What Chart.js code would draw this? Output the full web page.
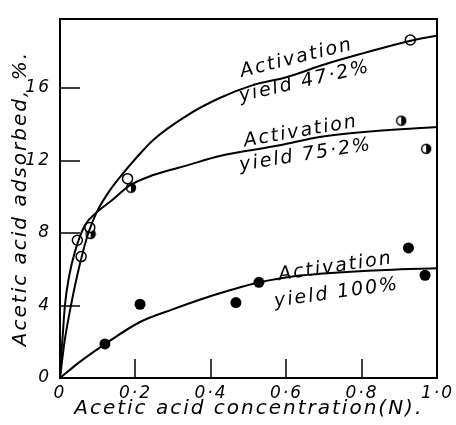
<!DOCTYPE html>
<html>
<head>
<meta charset="utf-8">
<script src="https://cdn.jsdelivr.net/npm/chart.js@4.4.1/dist/chart.umd.min.js"></script>
<style>
  html, body { margin: 0; padding: 0; background: #fff; }
  #wrap { width: 456px; height: 425px; position: relative; }
</style>
</head>
<body>
<div id="wrap"><canvas id="chart-canvas"></canvas></div>
<script>
// axis ticks
const xTicks = [0, 0.2, 0.4, 0.6, 0.8, 1.0];
const yTicks = [0, 4, 8, 12, 16];

// fitted curves
const curve47X = [0, 0.012, 0.029, 0.045, 0.06, 0.075, 0.097, 0.127, 0.159, 0.2, 0.247, 0.335, 0.423, 0.511, 0.6, 0.7, 0.8, 0.926, 1.0];
const curve47Y = [0, 2.0, 4.0, 5.6, 6.9, 8.0, 9.14, 10.2, 11.09, 12.1, 13.14, 14.47, 15.45, 16.16, 16.6, 17.3, 17.9, 18.6, 18.9];
const curve75X = [0, 0.003, 0.006, 0.013, 0.024, 0.04, 0.066, 0.097, 0.137, 0.185, 0.247, 0.335, 0.423, 0.582, 0.688, 0.864, 1.0];
const curve75Y = [0, 1.2, 2.0, 4.0, 5.6, 7.0, 8.43, 9.14, 9.8, 10.63, 11.2, 11.72, 12.25, 12.84, 13.3, 13.67, 13.85];
const curve100X = [0, 0.05, 0.119, 0.212, 0.3, 0.37, 0.45, 0.529, 0.635, 0.688, 0.864, 1.0];
const curve100Y = [0, 0.85, 1.87, 3.09, 3.8, 4.32, 4.84, 5.28, 5.65, 5.75, 5.96, 6.05];

// measured points
const open47X = [0.046, 0.056, 0.079, 0.179, 0.928];
const open47Y = [7.6, 6.7, 8.3, 11.0, 18.65];
const half75X = [0.081, 0.188, 0.904, 0.970];
const half75Y = [7.95, 10.5, 14.2, 12.65];
const full100X = [0.119, 0.212, 0.466, 0.527, 0.923, 0.967, 1.034];
const full100Y = [1.88, 4.07, 4.16, 5.28, 7.18, 5.67, 4.78];

const pts = (xs, ys) => xs.map((x, i) => ({x: x, y: ys[i]}));

const italic = (size) => ({family: 'DejaVu Sans', style: 'italic', size: size});

// half filled circle marker
function halfMarker(r) {
    const c = document.createElement('canvas');
    const s = Math.ceil(r * 2 + 3);
    c.width = s; c.height = s;
    const g = c.getContext('2d');
    const m = s / 2;
    g.fillStyle = '#fff';
    g.beginPath(); g.arc(m, m, r, 0, Math.PI * 2); g.fill();
    g.fillStyle = '#000';
    g.beginPath(); g.arc(m, m, r, -Math.PI / 2, Math.PI / 2); g.closePath(); g.fill();
    g.lineWidth = 1.5; g.strokeStyle = '#000';
    g.beginPath(); g.arc(m, m, r, 0, Math.PI * 2); g.stroke();
    return c;
}

const curveStyle = {
    showLine: true,
    borderColor: '#000',
    borderWidth: 2,
    pointRadius: 0,
    cubicInterpolationMode: 'monotone',
    fill: false
};

const data = {
    datasets: [
        Object.assign({label: '47.2', data: pts(curve47X, curve47Y)}, curveStyle),
        Object.assign({label: '75.2', data: pts(curve75X, curve75Y)}, curveStyle),
        Object.assign({label: '100', data: pts(curve100X, curve100Y)}, curveStyle),
        {
            label: 'open', data: pts(open47X, open47Y),
            pointRadius: 5, pointBackgroundColor: '#fff', pointBorderColor: '#000', pointBorderWidth: 1.5
        },
        {
            label: 'half', data: pts(half75X, half75Y),
            pointStyle: halfMarker(4.5)
        },
        {
            label: 'full', data: pts(full100X, full100Y), clip: false,
            pointRadius: 5.5, pointBackgroundColor: '#000', pointBorderColor: '#000', pointBorderWidth: 0
        }
    ]
};

// curve labels: text, x, y, angle
const curveLabels = [
    ['Activation', 0.627, 17.65, -14],
    ['yield 47·2%', 0.648, 16.35, -13],
    ['Activation', 0.638, 13.6, -10],
    ['yield 75·2%', 0.651, 12.3, -9],
    ['Activation', 0.730, 6.13, -8.5],
    ['yield 100%', 0.733, 4.69, -8]
];

const spacing = {
    id: 'spacing',
    beforeDraw(chart) { chart.ctx.letterSpacing = '2px'; }
};

const frameAndTicks = {
    id: 'frameAndTicks',
    afterDraw(chart) {
        const {ctx, chartArea: a, scales: {x, y}} = chart;
        ctx.save();
        ctx.fillStyle = '#000';
        const L = Math.round(a.left), R = Math.round(a.right);
        const T = Math.round(a.top), B = Math.round(a.bottom);
        // frame
        ctx.fillRect(L - 1, T - 1, R - L + 2, 2);
        ctx.fillRect(L - 1, B - 1, R - L + 2, 2);
        ctx.fillRect(L - 1, T - 1, 2, B - T + 2);
        ctx.fillRect(R - 1, T - 1, 2, B - T + 2);
        // inward ticks
        xTicks.slice(1, -1).forEach(v => {
            const px = Math.round(x.getPixelForValue(v));
            ctx.fillRect(px - 0.75, B - 19, 1.5, 19);
        });
        yTicks.slice(1).forEach(v => {
            const py = Math.round(y.getPixelForValue(v));
            ctx.fillRect(L, py - 0.75, 20, 1.5);
        });

        ctx.font = 'italic 19px "DejaVu Sans"';
        ctx.letterSpacing = '2px';
        ctx.textAlign = 'center';
        ctx.textBaseline = 'middle';
        curveLabels.forEach(([t, vx, vy, ang]) => {
            ctx.save();
            ctx.translate(x.getPixelForValue(vx), y.getPixelForValue(vy));
            ctx.rotate(ang * Math.PI / 180);
            ctx.fillText(t, 0, 0);
            ctx.restore();
        });
        ctx.restore();
    }
};

const config = {
    type: 'scatter',
    data,
    options: {
        responsive: true,
        maintainAspectRatio: false,
        animation: false,
        layout: {padding: {top: 8, right: 18, left: 0, bottom: 0}},
        plugins: {legend: {display: false}, tooltip: {enabled: false}},
        scales: {
            x: {
                type: 'linear', min: 0, max: 1.0,
                grid: {display: false, drawTicks: false},
                border: {display: false},
                afterBuildTicks: s => { s.ticks = xTicks.map(v => ({value: v})); },
                afterFit: s => { s.height = 47; },
                ticks: {
                    color: '#000', font: italic(17), padding: 5, maxRotation: 0,
                    callback: v => v === 0 ? '0' : v.toFixed(1).replace('.', '·')
                },
                title: {
                    display: true, text: 'Acetic acid concentration(N).',
                    color: '#000', font: italic(20), padding: {top: 0, bottom: 4}
                }
            },
            y: {
                type: 'linear', min: 0, max: 19.8,
                grid: {display: false, drawTicks: false},
                border: {display: false},
                afterBuildTicks: s => { s.ticks = yTicks.map(v => ({value: v})); },
                afterFit: s => { s.width = 60; },
                ticks: {color: '#000', font: italic(17), padding: 9},
                title: {
                    display: true, text: 'Acetic acid adsorbed, %.',
                    color: '#000', font: italic(20), padding: {top: 9, bottom: 0}
                }
            }
        }
    },
    plugins: [spacing, frameAndTicks]
};

let myChart = new Chart(document.getElementById('chart-canvas'), config);
</script>
</body>
</html>
